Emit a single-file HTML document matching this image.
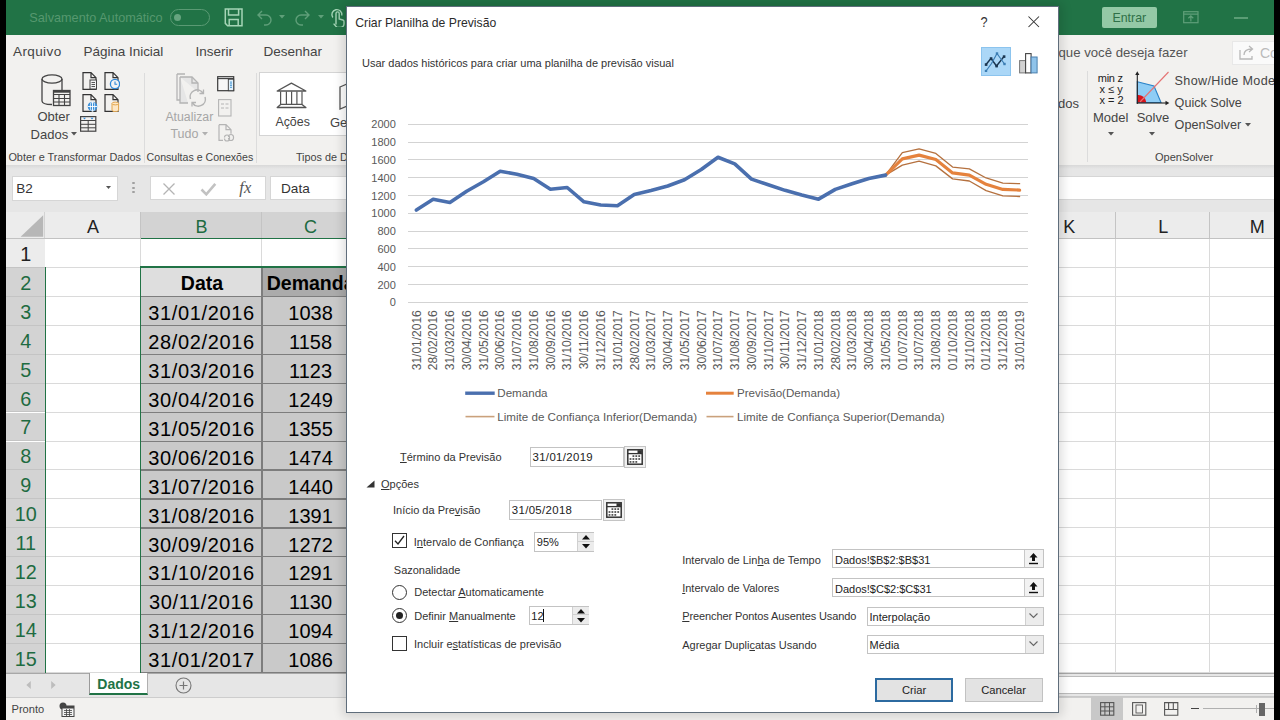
<!DOCTYPE html>
<html lang="pt-BR">
<head>
<meta charset="utf-8">
<title>Criar Planilha de Previsão</title>
<style>
*{box-sizing:border-box;margin:0;padding:0}
html,body{width:1280px;height:720px;overflow:hidden;background:#000;font-family:"Liberation Sans",Arial,sans-serif;position:relative}
.a{position:absolute}
.t{position:absolute;white-space:nowrap;line-height:1}
u{text-decoration:underline;text-underline-offset:1px}
</style>
</head>
<body>
<div class="a" style="left:6.0px;top:0.0px;width:1268.0px;height:35.0px;background:#217346"></div>
<div class="a" style="left:6.0px;top:35.0px;width:1268.0px;height:130.0px;background:#f2f1ef"></div>
<div class="a" style="left:6.0px;top:165.0px;width:1268.0px;height:4.0px;background:linear-gradient(#d8d8d8,#e6e6e6)"></div>
<div class="a" style="left:6.0px;top:169.0px;width:1268.0px;height:43.0px;background:#e6e6e6"></div>
<div class="t " style="left:29.3px;top:12.1px;font-size:12.7px;color:#56986f;">Salvamento Automático</div>
<div class="a" style="left:169.5px;top:8.5px;width:40px;height:17px;border:1.5px solid #5a9a74;border-radius:9px"></div>
<div class="a" style="left:174.0px;top:13.8px;width:7.2px;height:7.2px;background:#66a47f;border-radius:50%"></div>
<svg class="a" style="left:224.0px;top:7.5px;" width="20" height="19" viewBox="0 0 20 19"><path d="M1.3 1H18V17.7H3.6L1.3 15.4Z M4.5 1V7H14.6V1 M5.2 17.7V11.5H14.2V17.7" fill="none" stroke="#a5d5b6" stroke-width="1.5"/></svg>
<svg class="a" style="left:255.0px;top:9.0px;" width="18" height="17" viewBox="0 0 18 17"><path d="M3 6h8a5 5 0 0 1 0 10h-2 M7 2l-4 4 4 4" fill="none" stroke="#5f9f79" stroke-width="1.4"/></svg>
<svg class="a" style="left:278.5px;top:14.5px;" width="6" height="4" viewBox="0 0 6 4"><path d="M0 0h6l-3 3.5z" fill="#5f9f79"/></svg>
<svg class="a" style="left:294.0px;top:9.0px;" width="18" height="17" viewBox="0 0 18 17"><path d="M15 6h-8a5 5 0 0 0 0 10h2 M11 2l4 4-4 4" fill="none" stroke="#5f9f79" stroke-width="1.4"/></svg>
<svg class="a" style="left:317.5px;top:14.5px;" width="6" height="4" viewBox="0 0 6 4"><path d="M0 0h6l-3 3.5z" fill="#5f9f79"/></svg>
<svg class="a" style="left:330.0px;top:7.0px;" width="16" height="20" viewBox="0 0 16 20"><path d="M2.8 10.5A5 5 0 1 1 11.8 8.5" fill="none" stroke="#a5d5b6" stroke-width="1.4"/><path d="M6 17.5V6.5a1.6 1.6 0 0 1 3.2 0V12l3.6 1a1.6 1.6 0 0 1 1.2 1.6V17a3.5 3.5 0 0 1-3.5 3.5H8.3a3 3 0 0 1-2.3-1.1L3.6 16.6" fill="none" stroke="#a5d5b6" stroke-width="1.4"/></svg>
<div class="a" style="left:1101.5px;top:7.2px;width:55.5px;height:20.6px;background:#94c9a6;border-radius:2px"></div>
<div class="t " style="left:1129.3px;transform:translateX(-50%);top:12.3px;font-size:12.4px;color:#2f7048;">Entrar</div>
<svg class="a" style="left:1183.0px;top:11.0px;" width="16" height="13" viewBox="0 0 16 13"><rect x="0.7" y="0.7" width="14.3" height="11" fill="none" stroke="#5f9f79" stroke-width="1.2"/><path d="M0.7 3.2h14.3 M7.85 10.5v-5.5 M5.4 7.2l2.45-2.4 2.45 2.4" fill="none" stroke="#5f9f79" stroke-width="1.2"/></svg>
<div class="a" style="left:1234.0px;top:17.4px;width:13.5px;height:1.2px;background:#5a9d75"></div>
<div class="t " style="left:13.0px;top:45.3px;font-size:13.5px;color:#444;letter-spacing:0.4px">Arquivo</div>
<div class="t " style="left:83.6px;top:45.3px;font-size:13.5px;color:#444;letter-spacing:-0.05px">Página Inicial</div>
<div class="t " style="left:195.4px;top:45.3px;font-size:13.5px;color:#444;letter-spacing:0px">Inserir</div>
<div class="t " style="left:263.5px;top:45.3px;font-size:13.5px;color:#444;letter-spacing:0px">Desenhar</div>
<div class="t " style="left:1058.5px;top:45.7px;font-size:13.2px;color:#555;">que você deseja fazer</div>
<div class="a" style="left:1232px;top:40.5px;width:50px;height:24px;background:#fafafa;border:1px solid #e8e8e8"></div>
<svg class="a" style="left:1239.0px;top:45.0px;" width="16" height="15" viewBox="0 0 16 15"><path d="M1 5v9h12v-3 M5 10c0-4 3-6 8-6 M10 1l3.5 3-3.5 3" fill="none" stroke="#b8b8b8" stroke-width="1.3"/></svg>
<div class="t " style="left:1260.0px;top:46.1px;font-size:14px;color:#bbb;">Co</div>
<svg class="a" style="left:40.0px;top:73.0px;" width="32" height="34" viewBox="0 0 32 34">
<path d="M2 6v22c0 2 4 3.5 10 3.5 M22 6v12" fill="none" stroke="#444" stroke-width="1.3"/>
<ellipse cx="12" cy="6" rx="10" ry="4.2" fill="none" stroke="#444" stroke-width="1.3"/>
<rect x="13.5" y="17.5" width="16.5" height="15" fill="#f2f1ef" stroke="#444" stroke-width="1.3"/>
<path d="M13.5 21.5h16.5 M13.5 25.5h16.5 M13.5 29h16.5 M19 21.5v11 M24.5 21.5v11" stroke="#444" stroke-width="1.1"/>
<rect x="13.5" y="17.5" width="16.5" height="2.2" fill="#444"/></svg>
<div class="t " style="left:37.4px;top:110.4px;font-size:13px;color:#444;">Obter</div>
<div class="t " style="left:30.6px;top:127.6px;font-size:13px;color:#444;">Dados</div>
<svg class="a" style="left:70.5px;top:132.0px;" width="6" height="4" viewBox="0 0 6 4"><path d="M0 0h6l-3 3.5z" fill="#555"/></svg>
<svg class="a" style="left:82.0px;top:72.0px;" width="16" height="18" viewBox="0 0 16 18"><path d="M1 0.7h8l5 5v11.6h-13z M9 0.7v5h5" fill="none" stroke="#333" stroke-width="1.2"/><rect x="8" y="8" width="6.5" height="9" fill="#f3f3f3" stroke="#444" stroke-width="1"/><path d="M9.5 10.5h3.5M9.5 12.5h3.5M9.5 14.5h3.5" stroke="#444" stroke-width="0.9"/></svg>
<svg class="a" style="left:103.5px;top:72.0px;" width="16" height="18" viewBox="0 0 16 18"><path d="M1 0.7h8l5 5v11.6h-13z M9 0.7v5h5" fill="none" stroke="#333" stroke-width="1.2"/><circle cx="11" cy="12" r="4.6" fill="#f3f3f3" stroke="#2f88d8" stroke-width="1.3"/><path d="M11 9.4v2.8h2.2" fill="none" stroke="#2f88d8" stroke-width="1.1"/></svg>
<svg class="a" style="left:82.0px;top:93.5px;" width="16" height="18" viewBox="0 0 16 18"><path d="M1 0.7h8l5 5v11.6h-13z M9 0.7v5h5" fill="none" stroke="#333" stroke-width="1.2"/><circle cx="10.5" cy="12.5" r="4.8" fill="#3a8fd9"/><path d="M5.7 12.5h9.6 M10.5 7.7v9.6" stroke="#fff" stroke-width="0.9"/><ellipse cx="10.5" cy="12.5" rx="2.2" ry="4.8" fill="none" stroke="#fff" stroke-width="0.8"/></svg>
<svg class="a" style="left:103.5px;top:93.5px;" width="16" height="18" viewBox="0 0 16 18"><path d="M1 0.7h8l5 5v11.6h-13z M9 0.7v5h5" fill="none" stroke="#333" stroke-width="1.2"/><path d="M8 9.5v6.5c0 1 1.5 1.6 3.3 1.6s3.3-0.6 3.3-1.6v-6.5" fill="#fde7c6" stroke="#e3a64d" stroke-width="1"/><ellipse cx="11.3" cy="9.5" rx="3.3" ry="1.4" fill="#fde7c6" stroke="#e3a64d" stroke-width="1"/></svg>
<svg class="a" style="left:80.0px;top:116.0px;" width="17" height="16" viewBox="0 0 17 16"><rect x="0.6" y="0.6" width="15.2" height="14.6" fill="none" stroke="#444" stroke-width="1.2"/><path d="M0.6 4.5h15.2 M0.6 8.3h15.2 M0.6 11.8h15.2 M8.2 4.5v10.7" stroke="#444" stroke-width="1"/><path d="M3 1.8h3l-1.5 1.7z M10.5 1.8h3l-1.5 1.7z" fill="#2f88d8"/></svg>
<div class="t " style="left:8.4px;top:152.1px;font-size:10.9px;color:#444;">Obter e Transformar Dados</div>
<div class="a" style="left:144.4px;top:73.0px;width:1.0px;height:90.0px;background:#dcdcdc"></div>
<svg class="a" style="left:176.0px;top:73.0px;" width="32" height="34" viewBox="0 0 32 34">
<path d="M1 1h8 M1 1v26h3" fill="none" stroke="#b4b4b4" stroke-width="1.3"/>
<path d="M4 4h12l6 6v9 M4 4v26h8" fill="#e6e6e6" stroke="#b4b4b4" stroke-width="1.3"/>
<path d="M16 4v6h6" fill="none" stroke="#b4b4b4" stroke-width="1.3"/>
<path d="M14.5 26a7 7 0 0 1 12.5-6 M29 24a7 7 0 0 1-12.5 6" fill="none" stroke="#b4b4b4" stroke-width="1.5"/>
<path d="M27.5 16.5v4h-4 M16 33.5v-4h4" fill="none" stroke="#b4b4b4" stroke-width="1.3"/></svg>
<div class="t " style="left:165.4px;top:111.4px;font-size:12.3px;color:#a6a6a6;">Atualizar</div>
<div class="t " style="left:170.4px;top:127.7px;font-size:12.5px;color:#a6a6a6;">Tudo</div>
<svg class="a" style="left:202.3px;top:131.5px;" width="6" height="4" viewBox="0 0 6 4"><path d="M0 0h6l-3 3.5z" fill="#b0b0b0"/></svg>
<svg class="a" style="left:216.5px;top:75.5px;" width="18" height="16" viewBox="0 0 18 16"><rect x="0.7" y="0.7" width="16" height="14" fill="#f7f7f7" stroke="#3a3a3a" stroke-width="1.2"/><path d="M0.7 2.6h16" stroke="#3a3a3a" stroke-width="1.1"/><rect x="11.3" y="3.2" width="5.4" height="11.5" fill="#e3f1fb" stroke="#3a3a3a" stroke-width="0.9"/><path d="M14 5.5v6.5" stroke="#3a8fd0" stroke-width="1.5" stroke-dasharray="1.2 0.6"/></svg>
<svg class="a" style="left:217.5px;top:99.0px;" width="15" height="18" viewBox="0 0 15 18"><rect x="0.6" y="0.6" width="12.4" height="16.4" fill="none" stroke="#b4b4b4" stroke-width="1.1"/><path d="M3 5h3 M7.5 5h3 M3 9h3 M7.5 9h3" stroke="#b4b4b4" stroke-width="1"/></svg>
<svg class="a" style="left:217.5px;top:123.5px;" width="17" height="18" viewBox="0 0 17 18"><path d="M1 0.7h7l5 5v4 M1 0.7v15.6h4 M8 0.7v5h5" fill="none" stroke="#b4b4b4" stroke-width="1.2"/><path d="M6.5 13.5a2.5 2.5 0 0 1 5 0v1a2.5 2.5 0 0 1-5 0 M10.5 13a2.5 2.5 0 0 1 5 0v1a2.5 2.5 0 0 1-5 0" fill="none" stroke="#b4b4b4" stroke-width="1.2"/></svg>
<div class="t " style="left:146.6px;top:152.2px;font-size:10.6px;color:#444;">Consultas e Conexões</div>
<div class="a" style="left:255.7px;top:73.0px;width:1.0px;height:90.0px;background:#dcdcdc"></div>
<div class="a" style="left:259.4px;top:72.3px;width:100px;height:63.5px;background:#fff;border:1px solid #d4d4d4"></div>
<svg class="a" style="left:276.0px;top:82.0px;" width="31" height="27" viewBox="0 0 31 27"><path d="M1.2 9L15.4 1.1 29.9 9z" fill="none" stroke="#555" stroke-width="1.3" stroke-linejoin="round"/><path d="M4.6 9.6v12.8 M10.4 9.6v12.8 M15.6 9.6v12.8 M20.9 9.6v12.8 M26 9.6v12.8" stroke="#555" stroke-width="1.2"/><path d="M1.2 25.5L4.6 22.4H26L29.9 25.5z" fill="none" stroke="#555" stroke-width="1.3" stroke-linejoin="round"/></svg>
<div class="t " style="left:275.4px;top:115.9px;font-size:12.4px;color:#444;">Ações</div>
<svg class="a" style="left:339.0px;top:83.0px;" width="10" height="28" viewBox="0 0 10 28"><path d="M1 4l7-3v22l-7 3z" fill="none" stroke="#555" stroke-width="1.3"/></svg>
<div class="t " style="left:330.0px;top:115.6px;font-size:13px;color:#444;">Geo</div>
<div class="t " style="left:295.9px;top:152.1px;font-size:10.8px;color:#444;">Tipos de Dados</div>
<div class="t " style="left:1058.0px;top:96.6px;font-size:13px;color:#444;">dos</div>
<div class="a" style="left:1087.0px;top:71.0px;width:1.0px;height:91.0px;background:#dcdcdc"></div>
<div class="t " style="left:1097.8px;top:72.6px;font-size:11px;color:#222;letter-spacing:-0.3px">min z</div>
<div class="t " style="left:1099.5px;top:83.8px;font-size:11px;color:#222;">x ≤ y</div>
<div class="t " style="left:1099.5px;top:94.9px;font-size:11px;color:#222;">x = 2</div>
<div class="t " style="left:1092.9px;top:110.6px;font-size:13px;color:#444;">Model</div>
<svg class="a" style="left:1108.0px;top:131.5px;" width="6" height="4" viewBox="0 0 6 4"><path d="M0 0h6l-3 3.5z" fill="#555"/></svg>
<svg class="a" style="left:1135.0px;top:70.0px;" width="36" height="36" viewBox="0 0 36 36">
<path d="M2.3 11.7L19 16 26 32.5H2.3z" fill="#8fcdf5" stroke="#2a83c8" stroke-width="1.1"/>
<path d="M2.3 25a8 8 0 0 1 9 7.5h-9z" fill="#d7141c"/>
<path d="M5 32l28.5-30" stroke="#e57373" stroke-width="1.1"/>
<path d="M2.3 34V3" stroke="#222" stroke-width="1.1"/><path d="M0.2 5L2.3 1.2 4.4 5z" fill="#222"/>
<path d="M1.8 33h30" stroke="#222" stroke-width="1.1"/><path d="M30.5 30.8l3.8 2.2-3.8 2.2z" fill="#222"/></svg>
<div class="t " style="left:1136.7px;top:110.6px;font-size:13px;color:#444;">Solve</div>
<svg class="a" style="left:1148.8px;top:131.5px;" width="6" height="4" viewBox="0 0 6 4"><path d="M0 0h6l-3 3.5z" fill="#555"/></svg>
<div class="t " style="left:1174.6px;top:75.1px;font-size:12.6px;color:#444;letter-spacing:0.35px">Show/Hide Model</div>
<div class="t " style="left:1174.6px;top:96.8px;font-size:12.6px;color:#444;">Quick Solve</div>
<div class="t " style="left:1174.6px;top:118.6px;font-size:12.6px;color:#444;">OpenSolver</div>
<svg class="a" style="left:1244.5px;top:123.0px;" width="6" height="4" viewBox="0 0 6 4"><path d="M0 0h6l-3 3.5z" fill="#555"/></svg>
<div class="t " style="left:1155.0px;top:151.8px;font-size:11px;color:#444;">OpenSolver</div>
<div class="a" style="left:11.5px;top:176.4px;width:106.7px;height:24.2px;background:#fff;border:1px solid #d6d6d6"></div>
<div class="t " style="left:16.3px;top:181.9px;font-size:13.5px;color:#333;">B2</div>
<svg class="a" style="left:105.5px;top:186.3px;" width="5" height="3" viewBox="0 0 5 3"><path d="M0 0h5l-2.5 3z" fill="#555"/></svg>
<div class="a" style="left:132.4px;top:182.2px;width:2.2px;height:2.2px;background:#a0a0a0;border-radius:50%"></div>
<div class="a" style="left:132.4px;top:186.6px;width:2.2px;height:2.2px;background:#a0a0a0;border-radius:50%"></div>
<div class="a" style="left:132.4px;top:190.8px;width:2.2px;height:2.2px;background:#a0a0a0;border-radius:50%"></div>
<div class="a" style="left:150.4px;top:176.4px;width:115.5px;height:24px;background:#fff;border:1px solid #d6d6d6"></div>
<svg class="a" style="left:162.0px;top:182.0px;" width="14" height="14" viewBox="0 0 14 14"><path d="M1.5 1.5l11 11 M12.5 1.5l-11 11" stroke="#b4b4b4" stroke-width="1.3"/></svg>
<svg class="a" style="left:200.0px;top:182.0px;" width="17" height="14" viewBox="0 0 17 14"><path d="M1.5 7.5l4.8 4.8 9-10.5" fill="none" stroke="#c2c2c2" stroke-width="2.6"/></svg>
<div class="t " style="left:239.3px;top:180.2px;font-size:16.5px;color:#555;font-family:'Liberation Serif',serif;"><i>fx</i></div>
<div class="a" style="left:269.8px;top:176.4px;width:1010px;height:24px;background:#fff;border:1px solid #d6d6d6"></div>
<div class="t " style="left:281.0px;top:182.0px;font-size:13.6px;color:#333;">Data</div>
<div class="a" style="left:6.0px;top:239.0px;width:1268.0px;height:434.3px;background:#fff"></div>
<div class="a" style="left:6.0px;top:211.6px;width:1268.0px;height:27.4px;background:#ececec;border-bottom:1px solid #c9c9c9"></div>
<svg class="a" style="left:6.0px;top:211.6px;" width="39.3" height="27.400000000000006" viewBox="0 0 39.3 27.400000000000006"><path d="M37.2 3.2V24.7H14.6z" fill="#b7b7b7"/><path d="M38.8 0V27.400000000000006" stroke="#c9c9c9"/></svg>
<div class="a" style="left:45.3px;top:211.6px;width:95.4px;height:27.4px;background:#ececec;border-right:1px solid #c4c4c4"></div>
<div class="t " style="left:93.0px;transform:translateX(-50%);top:217.5px;font-size:18px;color:#222;">A</div>
<div class="a" style="left:140.7px;top:211.6px;width:121.6px;height:27.4px;background:#d3d3d3;border-right:1px solid #c4c4c4"></div>
<div class="t " style="left:201.5px;transform:translateX(-50%);top:217.5px;font-size:18px;color:#1e6b41;">B</div>
<div class="a" style="left:262.3px;top:211.6px;width:96.2px;height:27.4px;background:#d3d3d3;border-right:1px solid #c4c4c4"></div>
<div class="t " style="left:310.4px;transform:translateX(-50%);top:217.5px;font-size:18px;color:#1e6b41;">C</div>
<div class="a" style="left:1022.0px;top:211.6px;width:94.4px;height:27.4px;background:#ececec;border-right:1px solid #c4c4c4"></div>
<div class="t " style="left:1069.2px;transform:translateX(-50%);top:217.5px;font-size:18px;color:#222;">K</div>
<div class="a" style="left:1116.4px;top:211.6px;width:93.9px;height:27.4px;background:#ececec;border-right:1px solid #c4c4c4"></div>
<div class="t " style="left:1163.3px;transform:translateX(-50%);top:217.5px;font-size:18px;color:#222;">L</div>
<div class="a" style="left:1210.3px;top:211.6px;width:93.7px;height:27.4px;background:#ececec;border-right:1px solid #c4c4c4"></div>
<div class="t " style="left:1257.2px;transform:translateX(-50%);top:217.5px;font-size:18px;color:#222;">M</div>
<div class="a" style="left:6.0px;top:238.0px;width:1268.0px;height:1.0px;background:#c2c2c2"></div>
<div class="a" style="left:140.7px;top:237.5px;width:217.8px;height:1.5px;background:#217346"></div>
<div class="a" style="left:6.0px;top:239.0px;width:39.3px;height:28.9px;background:#ececec;border-bottom:1px solid #c4c4c4"></div>
<div class="t " style="left:25.8px;transform:translateX(-50%);top:244.9px;font-size:19.8px;color:#222;">1</div>
<div class="a" style="left:45.3px;top:266.9px;width:1228.7px;height:1.0px;background:#dadada"></div>
<div class="a" style="left:6.0px;top:267.9px;width:39.3px;height:28.9px;background:#d3d3d3;border-bottom:1px solid #c4c4c4"></div>
<div class="t " style="left:25.8px;transform:translateX(-50%);top:273.8px;font-size:19.8px;color:#1e6b41;">2</div>
<div class="a" style="left:45.3px;top:295.9px;width:1228.7px;height:1.0px;background:#dadada"></div>
<div class="a" style="left:6.0px;top:296.9px;width:39.3px;height:28.9px;background:#d3d3d3;border-bottom:1px solid #c4c4c4"></div>
<div class="t " style="left:25.8px;transform:translateX(-50%);top:302.7px;font-size:19.8px;color:#1e6b41;">3</div>
<div class="a" style="left:45.3px;top:324.8px;width:1228.7px;height:1.0px;background:#dadada"></div>
<div class="a" style="left:6.0px;top:325.8px;width:39.3px;height:28.9px;background:#d3d3d3;border-bottom:1px solid #c4c4c4"></div>
<div class="t " style="left:25.8px;transform:translateX(-50%);top:331.7px;font-size:19.8px;color:#1e6b41;">4</div>
<div class="a" style="left:45.3px;top:353.7px;width:1228.7px;height:1.0px;background:#dadada"></div>
<div class="a" style="left:6.0px;top:354.7px;width:39.3px;height:28.9px;background:#d3d3d3;border-bottom:1px solid #c4c4c4"></div>
<div class="t " style="left:25.8px;transform:translateX(-50%);top:360.6px;font-size:19.8px;color:#1e6b41;">5</div>
<div class="a" style="left:45.3px;top:382.7px;width:1228.7px;height:1.0px;background:#dadada"></div>
<div class="a" style="left:6.0px;top:383.6px;width:39.3px;height:28.9px;background:#d3d3d3;border-bottom:1px solid #c4c4c4"></div>
<div class="t " style="left:25.8px;transform:translateX(-50%);top:389.5px;font-size:19.8px;color:#1e6b41;">6</div>
<div class="a" style="left:45.3px;top:411.6px;width:1228.7px;height:1.0px;background:#dadada"></div>
<div class="a" style="left:6.0px;top:412.6px;width:39.3px;height:28.9px;background:#d3d3d3;border-bottom:1px solid #c4c4c4"></div>
<div class="t " style="left:25.8px;transform:translateX(-50%);top:418.4px;font-size:19.8px;color:#1e6b41;">7</div>
<div class="a" style="left:45.3px;top:440.5px;width:1228.7px;height:1.0px;background:#dadada"></div>
<div class="a" style="left:6.0px;top:441.5px;width:39.3px;height:28.9px;background:#d3d3d3;border-bottom:1px solid #c4c4c4"></div>
<div class="t " style="left:25.8px;transform:translateX(-50%);top:447.4px;font-size:19.8px;color:#1e6b41;">8</div>
<div class="a" style="left:45.3px;top:469.4px;width:1228.7px;height:1.0px;background:#dadada"></div>
<div class="a" style="left:6.0px;top:470.4px;width:39.3px;height:28.9px;background:#d3d3d3;border-bottom:1px solid #c4c4c4"></div>
<div class="t " style="left:25.8px;transform:translateX(-50%);top:476.3px;font-size:19.8px;color:#1e6b41;">9</div>
<div class="a" style="left:45.3px;top:498.4px;width:1228.7px;height:1.0px;background:#dadada"></div>
<div class="a" style="left:6.0px;top:499.4px;width:39.3px;height:28.9px;background:#d3d3d3;border-bottom:1px solid #c4c4c4"></div>
<div class="t " style="left:25.8px;transform:translateX(-50%);top:505.2px;font-size:19.8px;color:#1e6b41;">10</div>
<div class="a" style="left:45.3px;top:527.3px;width:1228.7px;height:1.0px;background:#dadada"></div>
<div class="a" style="left:6.0px;top:528.3px;width:39.3px;height:28.9px;background:#d3d3d3;border-bottom:1px solid #c4c4c4"></div>
<div class="t " style="left:25.8px;transform:translateX(-50%);top:534.2px;font-size:19.8px;color:#1e6b41;">11</div>
<div class="a" style="left:45.3px;top:556.2px;width:1228.7px;height:1.0px;background:#dadada"></div>
<div class="a" style="left:6.0px;top:557.2px;width:39.3px;height:28.9px;background:#d3d3d3;border-bottom:1px solid #c4c4c4"></div>
<div class="t " style="left:25.8px;transform:translateX(-50%);top:563.1px;font-size:19.8px;color:#1e6b41;">12</div>
<div class="a" style="left:45.3px;top:585.2px;width:1228.7px;height:1.0px;background:#dadada"></div>
<div class="a" style="left:6.0px;top:586.2px;width:39.3px;height:28.9px;background:#d3d3d3;border-bottom:1px solid #c4c4c4"></div>
<div class="t " style="left:25.8px;transform:translateX(-50%);top:592.0px;font-size:19.8px;color:#1e6b41;">13</div>
<div class="a" style="left:45.3px;top:614.1px;width:1228.7px;height:1.0px;background:#dadada"></div>
<div class="a" style="left:6.0px;top:615.1px;width:39.3px;height:28.9px;background:#d3d3d3;border-bottom:1px solid #c4c4c4"></div>
<div class="t " style="left:25.8px;transform:translateX(-50%);top:621.0px;font-size:19.8px;color:#1e6b41;">14</div>
<div class="a" style="left:45.3px;top:643.0px;width:1228.7px;height:1.0px;background:#dadada"></div>
<div class="a" style="left:6.0px;top:644.0px;width:39.3px;height:28.9px;background:#d3d3d3;border-bottom:1px solid #c4c4c4"></div>
<div class="t " style="left:25.8px;transform:translateX(-50%);top:649.9px;font-size:19.8px;color:#1e6b41;">15</div>
<div class="a" style="left:45.3px;top:671.9px;width:1228.7px;height:1.0px;background:#dadada"></div>
<div class="a" style="left:139.7px;top:239.0px;width:1.0px;height:434.3px;background:#dadada"></div>
<div class="a" style="left:261.3px;top:239.0px;width:1.0px;height:434.3px;background:#dadada"></div>
<div class="a" style="left:357.5px;top:239.0px;width:1.0px;height:434.3px;background:#dadada"></div>
<div class="a" style="left:1115.4px;top:239.0px;width:1.0px;height:434.3px;background:#dadada"></div>
<div class="a" style="left:1209.3px;top:239.0px;width:1.0px;height:434.3px;background:#dadada"></div>
<div class="a" style="left:1303.0px;top:239.0px;width:1.0px;height:434.3px;background:#dadada"></div>
<div class="a" style="left:44.5px;top:266.9px;width:1.4px;height:406.4px;background:#217346"></div>
<div class="a" style="left:140.7px;top:267.9px;width:121.6px;height:28.9px;background:#dedede"></div>
<div class="a" style="left:262.3px;top:267.9px;width:96.2px;height:28.9px;background:#ababab"></div>
<div class="a" style="left:140.7px;top:296.9px;width:217.8px;height:376.4px;background:#c9c9c9"></div>
<div class="a" style="left:140.7px;top:295.9px;width:217.8px;height:1.3px;background:#7d7d7d"></div>
<div class="a" style="left:140.7px;top:324.8px;width:217.8px;height:1.3px;background:#7d7d7d"></div>
<div class="a" style="left:140.7px;top:353.7px;width:217.8px;height:1.3px;background:#7d7d7d"></div>
<div class="a" style="left:140.7px;top:382.6px;width:217.8px;height:1.3px;background:#7d7d7d"></div>
<div class="a" style="left:140.7px;top:411.6px;width:217.8px;height:1.3px;background:#7d7d7d"></div>
<div class="a" style="left:140.7px;top:440.5px;width:217.8px;height:1.3px;background:#7d7d7d"></div>
<div class="a" style="left:140.7px;top:469.4px;width:217.8px;height:1.3px;background:#7d7d7d"></div>
<div class="a" style="left:140.7px;top:498.4px;width:217.8px;height:1.3px;background:#7d7d7d"></div>
<div class="a" style="left:140.7px;top:527.3px;width:217.8px;height:1.3px;background:#7d7d7d"></div>
<div class="a" style="left:140.7px;top:556.2px;width:217.8px;height:1.3px;background:#7d7d7d"></div>
<div class="a" style="left:140.7px;top:585.2px;width:217.8px;height:1.3px;background:#7d7d7d"></div>
<div class="a" style="left:140.7px;top:614.1px;width:217.8px;height:1.3px;background:#7d7d7d"></div>
<div class="a" style="left:140.7px;top:643.0px;width:217.8px;height:1.3px;background:#7d7d7d"></div>
<div class="a" style="left:140.7px;top:672.0px;width:217.8px;height:1.3px;background:#7d7d7d"></div>
<div class="a" style="left:261.3px;top:267.9px;width:1.5px;height:405.4px;background:#7d7d7d"></div>
<div class="a" style="left:139.7px;top:266.4px;width:218.8px;height:1.7px;background:#217346"></div>
<div class="a" style="left:139.9px;top:266.4px;width:1.6px;height:406.9px;background:#217346"></div>
<div class="t " style="left:202.0px;transform:translateX(-50%);top:274.0px;font-size:19.5px;color:#000;font-weight:bold;">Data</div>
<div class="t " style="left:310.6px;transform:translateX(-50%);top:274.0px;font-size:19.5px;color:#000;font-weight:bold;">Demanda</div>
<div class="t " style="left:201.6px;transform:translateX(-50%);top:303.0px;font-size:20px;color:#000;letter-spacing:0.65px">31/01/2016</div>
<div class="t " style="left:310.6px;transform:translateX(-50%);top:303.0px;font-size:20px;color:#000;">1038</div>
<div class="t " style="left:201.6px;transform:translateX(-50%);top:332.0px;font-size:20px;color:#000;letter-spacing:0.65px">28/02/2016</div>
<div class="t " style="left:310.6px;transform:translateX(-50%);top:332.0px;font-size:20px;color:#000;">1158</div>
<div class="t " style="left:201.6px;transform:translateX(-50%);top:360.9px;font-size:20px;color:#000;letter-spacing:0.65px">31/03/2016</div>
<div class="t " style="left:310.6px;transform:translateX(-50%);top:360.9px;font-size:20px;color:#000;">1123</div>
<div class="t " style="left:201.6px;transform:translateX(-50%);top:389.8px;font-size:20px;color:#000;letter-spacing:0.65px">30/04/2016</div>
<div class="t " style="left:310.6px;transform:translateX(-50%);top:389.8px;font-size:20px;color:#000;">1249</div>
<div class="t " style="left:201.6px;transform:translateX(-50%);top:418.7px;font-size:20px;color:#000;letter-spacing:0.65px">31/05/2016</div>
<div class="t " style="left:310.6px;transform:translateX(-50%);top:418.7px;font-size:20px;color:#000;">1355</div>
<div class="t " style="left:201.6px;transform:translateX(-50%);top:447.7px;font-size:20px;color:#000;letter-spacing:0.65px">30/06/2016</div>
<div class="t " style="left:310.6px;transform:translateX(-50%);top:447.7px;font-size:20px;color:#000;">1474</div>
<div class="t " style="left:201.6px;transform:translateX(-50%);top:476.6px;font-size:20px;color:#000;letter-spacing:0.65px">31/07/2016</div>
<div class="t " style="left:310.6px;transform:translateX(-50%);top:476.6px;font-size:20px;color:#000;">1440</div>
<div class="t " style="left:201.6px;transform:translateX(-50%);top:505.5px;font-size:20px;color:#000;letter-spacing:0.65px">31/08/2016</div>
<div class="t " style="left:310.6px;transform:translateX(-50%);top:505.5px;font-size:20px;color:#000;">1391</div>
<div class="t " style="left:201.6px;transform:translateX(-50%);top:534.5px;font-size:20px;color:#000;letter-spacing:0.65px">30/09/2016</div>
<div class="t " style="left:310.6px;transform:translateX(-50%);top:534.5px;font-size:20px;color:#000;">1272</div>
<div class="t " style="left:201.6px;transform:translateX(-50%);top:563.4px;font-size:20px;color:#000;letter-spacing:0.65px">31/10/2016</div>
<div class="t " style="left:310.6px;transform:translateX(-50%);top:563.4px;font-size:20px;color:#000;">1291</div>
<div class="t " style="left:201.6px;transform:translateX(-50%);top:592.3px;font-size:20px;color:#000;letter-spacing:0.65px">30/11/2016</div>
<div class="t " style="left:310.6px;transform:translateX(-50%);top:592.3px;font-size:20px;color:#000;">1130</div>
<div class="t " style="left:201.6px;transform:translateX(-50%);top:621.3px;font-size:20px;color:#000;letter-spacing:0.65px">31/12/2016</div>
<div class="t " style="left:310.6px;transform:translateX(-50%);top:621.3px;font-size:20px;color:#000;">1094</div>
<div class="t " style="left:201.6px;transform:translateX(-50%);top:650.2px;font-size:20px;color:#000;letter-spacing:0.65px">31/01/2017</div>
<div class="t " style="left:310.6px;transform:translateX(-50%);top:650.2px;font-size:20px;color:#000;">1086</div>
<div class="a" style="left:6.0px;top:672.8px;width:1268.0px;height:25.0px;background:#e6e6e6;border-top:1px solid #a8a8a8;border-bottom:1px solid #cdcdcd"></div>
<svg class="a" style="left:26.3px;top:680.8px;" width="5" height="8" viewBox="0 0 5 8"><path d="M4.8 0L0.3 4 4.8 8z" fill="#bdbdbd"/></svg>
<svg class="a" style="left:50.8px;top:680.8px;" width="5" height="8" viewBox="0 0 5 8"><path d="M0.2 0L4.7 4 0.2 8z" fill="#bdbdbd"/></svg>
<div class="a" style="left:89.2px;top:673px;width:58.5px;height:22px;background:#fff;border-bottom:2px solid #217346;border-left:1px solid #9a9a9a;border-right:1px solid #b0b0b0"></div>
<div class="t " style="left:118.7px;transform:translateX(-50%);top:677.4px;font-size:14px;color:#217346;font-weight:bold;">Dados</div>
<svg class="a" style="left:175.0px;top:676.5px;" width="17" height="17" viewBox="0 0 17 17"><circle cx="8.5" cy="8.5" r="7.5" fill="none" stroke="#777" stroke-width="1.1"/><path d="M8.5 4.5v8 M4.5 8.5h8" stroke="#777" stroke-width="1.2"/></svg>
<div class="a" style="left:1058.0px;top:675.8px;width:216.0px;height:17.8px;background:#fff;border-top:1px solid #bcbcbc;border-bottom:1px solid #bcbcbc"></div>
<div class="a" style="left:1058.0px;top:693.6px;width:216.0px;height:3.8px;background:#e6e6e6;border-bottom:1px solid #c8c8c8"></div>
<div class="a" style="left:6.0px;top:697.8px;width:1268.0px;height:22.2px;background:#f2f1ef"></div>
<div class="t " style="left:11.5px;top:704.0px;font-size:11.1px;color:#444;">Pronto</div>
<svg class="a" style="left:59.0px;top:701.5px;" width="16" height="15" viewBox="0 0 16 15"><circle cx="4" cy="4" r="3.5" fill="#444"/><rect x="3" y="4" width="12" height="10.5" fill="#f3f3f3" stroke="#444" stroke-width="1"/><rect x="3" y="4" width="12" height="2.5" fill="#444"/><path d="M5 8.5h8 M5 10.5h8 M5 12.5h8 M7.5 7v7 M10.5 7v7" stroke="#444" stroke-width="0.8"/></svg>
<div class="a" style="left:1091.0px;top:697.4px;width:31.8px;height:22.6px;background:#c8c8c8"></div>
<svg class="a" style="left:1100.0px;top:702.0px;" width="15" height="14" viewBox="0 0 15 14"><rect x="0.6" y="0.6" width="13.2" height="12.6" fill="none" stroke="#555" stroke-width="1.1"/><path d="M4.9 0.6v12.6 M9.5 0.6v12.6 M0.6 4.8h13.2 M0.6 9h13.2" stroke="#555" stroke-width="1"/></svg>
<svg class="a" style="left:1131.5px;top:702.0px;" width="15" height="14" viewBox="0 0 15 14"><rect x="0.6" y="0.6" width="13.2" height="12.6" fill="none" stroke="#555" stroke-width="1.1"/><rect x="4" y="3" width="6.5" height="8" fill="none" stroke="#555" stroke-width="0.9"/></svg>
<svg class="a" style="left:1163.5px;top:702.0px;" width="15" height="14" viewBox="0 0 15 14"><path d="M0.6 0.6h13.2v12.6h-13.2z M0.6 7.5h13.2 M4.6 0.6v6.9 M9.3 0.6v6.9" fill="none" stroke="#555" stroke-width="1.1"/></svg>
<div class="a" style="left:1191.0px;top:707.6px;width:7.5px;height:1.6px;background:#444"></div>
<div class="a" style="left:1203.0px;top:708.0px;width:72.0px;height:1.0px;background:#b0b0b0"></div>
<div class="a" style="left:1255.5px;top:704.5px;width:1.0px;height:8.0px;background:#b0b0b0"></div>
<div class="a" style="left:1259.0px;top:703.0px;width:6.0px;height:13.0px;background:#666"></div>
<div class="a" style="left:345.6px;top:5.8px;width:713.4px;height:707.2px;background:#fff;border:1px solid #5f6d7b;box-shadow:0 0 10px 3px rgba(0,0,0,0.14)"></div>
<div class="t " style="left:355.3px;top:17.3px;font-size:12.2px;color:#2b2b2b;">Criar Planilha de Previsão</div>
<div class="t " style="left:984.1px;transform:translateX(-50%);top:14.3px;font-size:15px;color:#333;transform:translateX(-50%) scaleX(0.85)">?</div>
<svg class="a" style="left:1028.0px;top:16.0px;" width="12" height="12" viewBox="0 0 12 12"><path d="M0.5 0.5L11 11 M11 0.5L0.5 11" stroke="#333" stroke-width="1.05"/></svg>
<div class="t " style="left:362.0px;top:57.6px;font-size:11px;color:#333;">Usar dados históricos para criar uma planilha de previsão visual</div>
<div class="a" style="left:981.3px;top:47.3px;width:29.7px;height:28.5px;background:#abd7f7;border:1px solid #8cc4ee"></div>
<svg class="a" style="left:984.0px;top:51.0px;" width="25" height="21" viewBox="0 0 25 21">
<path d="M2 13.5L7 7.5 12.5 15 20 5.5" fill="none" stroke="#1b3650" stroke-width="1.4"/>
<path d="M2 20L7.5 12.5 13 2.5 20.5 13" fill="none" stroke="#3b7db3" stroke-width="1.2"/>
<rect x="0.8" y="12.3" width="2.6" height="2.6" fill="#1b3650"/><rect x="5.8" y="6.3" width="2.6" height="2.6" fill="#1b3650"/>
<rect x="11.3" y="13.8" width="2.6" height="2.6" fill="#1b3650"/><rect x="18.8" y="4.3" width="2.6" height="2.6" fill="#1b3650"/>
<rect x="0.8" y="18.8" width="2.4" height="2.4" fill="#3b7db3"/><rect x="11.8" y="1.3" width="2.4" height="2.4" fill="#3b7db3"/><rect x="19.3" y="11.8" width="2.4" height="2.4" fill="#3b7db3"/></svg>
<svg class="a" style="left:1018.5px;top:51.5px;" width="20" height="22" viewBox="0 0 20 22">
<rect x="0.6" y="8.6" width="6" height="12.3" fill="#d2d2d2" stroke="#777" stroke-width="1"/>
<rect x="6.6" y="1.6" width="5.5" height="19.3" fill="#fff" stroke="#444" stroke-width="1.1"/>
<rect x="12.1" y="5" width="6" height="15.9" fill="#8fc3ea" stroke="#4a7fae" stroke-width="1"/></svg>
<svg class="a" style="left:0.0px;top:0.0px;" width="1280" height="720" viewBox="0 0 1280 720"><g font-family="Liberation Sans, Arial, sans-serif" fill="#595959"><path d="M408.0 302.5H1028.0" stroke="#d3d3d3" stroke-width="1"/><text x="395.8" y="306.3" font-size="11" text-anchor="end">0</text><path d="M408.0 284.5H1028.0" stroke="#d3d3d3" stroke-width="1"/><text x="395.8" y="288.5" font-size="11" text-anchor="end">200</text><path d="M408.0 266.5H1028.0" stroke="#d3d3d3" stroke-width="1"/><text x="395.8" y="270.7" font-size="11" text-anchor="end">400</text><path d="M408.0 248.5H1028.0" stroke="#d3d3d3" stroke-width="1"/><text x="395.8" y="252.9" font-size="11" text-anchor="end">600</text><path d="M408.0 231.5H1028.0" stroke="#d3d3d3" stroke-width="1"/><text x="395.8" y="235.1" font-size="11" text-anchor="end">800</text><path d="M408.0 213.5H1028.0" stroke="#d3d3d3" stroke-width="1"/><text x="395.8" y="217.3" font-size="11" text-anchor="end">1000</text><path d="M408.0 195.5H1028.0" stroke="#d3d3d3" stroke-width="1"/><text x="395.8" y="199.5" font-size="11" text-anchor="end">1200</text><path d="M408.0 177.5H1028.0" stroke="#d3d3d3" stroke-width="1"/><text x="395.8" y="181.7" font-size="11" text-anchor="end">1400</text><path d="M408.0 159.5H1028.0" stroke="#d3d3d3" stroke-width="1"/><text x="395.8" y="163.9" font-size="11" text-anchor="end">1600</text><path d="M408.0 142.5H1028.0" stroke="#d3d3d3" stroke-width="1"/><text x="395.8" y="146.1" font-size="11" text-anchor="end">1800</text><path d="M408.0 124.5H1028.0" stroke="#d3d3d3" stroke-width="1"/><text x="395.8" y="128.3" font-size="11" text-anchor="end">2000</text><text transform="translate(420.68,310.2) rotate(-90)" font-size="12" text-anchor="end">31/01/2016</text><text transform="translate(437.44,310.2) rotate(-90)" font-size="12" text-anchor="end">28/02/2016</text><text transform="translate(454.19,310.2) rotate(-90)" font-size="12" text-anchor="end">31/03/2016</text><text transform="translate(470.95,310.2) rotate(-90)" font-size="12" text-anchor="end">30/04/2016</text><text transform="translate(487.71,310.2) rotate(-90)" font-size="12" text-anchor="end">31/05/2016</text><text transform="translate(504.46,310.2) rotate(-90)" font-size="12" text-anchor="end">30/06/2016</text><text transform="translate(521.22,310.2) rotate(-90)" font-size="12" text-anchor="end">31/07/2016</text><text transform="translate(537.98,310.2) rotate(-90)" font-size="12" text-anchor="end">31/08/2016</text><text transform="translate(554.73,310.2) rotate(-90)" font-size="12" text-anchor="end">30/09/2016</text><text transform="translate(571.49,310.2) rotate(-90)" font-size="12" text-anchor="end">31/10/2016</text><text transform="translate(588.25,310.2) rotate(-90)" font-size="12" text-anchor="end">30/11/2016</text><text transform="translate(605.00,310.2) rotate(-90)" font-size="12" text-anchor="end">31/12/2016</text><text transform="translate(621.76,310.2) rotate(-90)" font-size="12" text-anchor="end">31/01/2017</text><text transform="translate(638.52,310.2) rotate(-90)" font-size="12" text-anchor="end">28/02/2017</text><text transform="translate(655.27,310.2) rotate(-90)" font-size="12" text-anchor="end">31/03/2017</text><text transform="translate(672.03,310.2) rotate(-90)" font-size="12" text-anchor="end">30/04/2017</text><text transform="translate(688.79,310.2) rotate(-90)" font-size="12" text-anchor="end">31/05/2017</text><text transform="translate(705.54,310.2) rotate(-90)" font-size="12" text-anchor="end">30/06/2017</text><text transform="translate(722.30,310.2) rotate(-90)" font-size="12" text-anchor="end">31/07/2017</text><text transform="translate(739.06,310.2) rotate(-90)" font-size="12" text-anchor="end">31/08/2017</text><text transform="translate(755.81,310.2) rotate(-90)" font-size="12" text-anchor="end">30/09/2017</text><text transform="translate(772.57,310.2) rotate(-90)" font-size="12" text-anchor="end">31/10/2017</text><text transform="translate(789.33,310.2) rotate(-90)" font-size="12" text-anchor="end">30/11/2017</text><text transform="translate(806.08,310.2) rotate(-90)" font-size="12" text-anchor="end">31/12/2017</text><text transform="translate(822.84,310.2) rotate(-90)" font-size="12" text-anchor="end">31/01/2018</text><text transform="translate(839.60,310.2) rotate(-90)" font-size="12" text-anchor="end">28/02/2018</text><text transform="translate(856.35,310.2) rotate(-90)" font-size="12" text-anchor="end">31/03/2018</text><text transform="translate(873.11,310.2) rotate(-90)" font-size="12" text-anchor="end">30/04/2018</text><text transform="translate(889.87,310.2) rotate(-90)" font-size="12" text-anchor="end">31/05/2018</text><text transform="translate(906.62,310.2) rotate(-90)" font-size="12" text-anchor="end">01/07/2018</text><text transform="translate(923.38,310.2) rotate(-90)" font-size="12" text-anchor="end">31/07/2018</text><text transform="translate(940.14,310.2) rotate(-90)" font-size="12" text-anchor="end">31/08/2018</text><text transform="translate(956.89,310.2) rotate(-90)" font-size="12" text-anchor="end">01/10/2018</text><text transform="translate(973.65,310.2) rotate(-90)" font-size="12" text-anchor="end">31/10/2018</text><text transform="translate(990.41,310.2) rotate(-90)" font-size="12" text-anchor="end">01/12/2018</text><text transform="translate(1007.16,310.2) rotate(-90)" font-size="12" text-anchor="end">31/12/2018</text><text transform="translate(1023.92,310.2) rotate(-90)" font-size="12" text-anchor="end">31/01/2019</text></g><polyline points="885.57,175.13 902.32,152.70 919.08,148.87 935.84,153.41 952.59,167.03 969.35,168.81 986.11,177.98 1002.86,183.05 1019.62,183.67" fill="none" stroke="#b5713f" stroke-width="1.3" stroke-linejoin="round" stroke-linecap="round"/><polyline points="885.57,175.13 902.32,165.07 919.08,161.07 935.84,165.87 952.59,178.87 969.35,181.00 986.11,190.62 1002.86,195.96 1019.62,196.49" fill="none" stroke="#b5713f" stroke-width="1.3" stroke-linejoin="round" stroke-linecap="round"/><polyline points="885.57,175.13 902.32,158.84 919.08,155.10 935.84,159.47 952.59,172.90 969.35,175.04 986.11,184.30 1002.86,189.46 1019.62,190.08" fill="none" stroke="#e5823d" stroke-width="3.2" stroke-linejoin="round" stroke-linecap="round"/><polyline points="416.38,210.02 433.14,199.34 449.89,202.45 466.65,191.24 483.41,181.80 500.16,171.21 516.92,174.24 533.68,178.60 550.43,189.19 567.19,187.50 583.95,201.83 600.70,205.03 617.46,205.75 634.22,194.44 650.97,190.44 667.73,185.99 684.49,179.76 701.24,169.43 718.00,157.24 734.76,163.83 751.51,179.13 768.27,184.74 785.03,190.35 801.78,195.07 818.54,199.16 835.30,189.37 852.05,183.76 868.81,178.51 885.57,175.13" fill="none" stroke="#4a6fae" stroke-width="3.6" stroke-linejoin="round" stroke-linecap="round"/><path d="M465.2 393.2H494.7" stroke="#4a6fae" stroke-width="3.4"/><path d="M706 393.2H733.7" stroke="#e5823d" stroke-width="3"/><path d="M465.5 416.6H494.5" stroke="#caa17c" stroke-width="1.6"/><path d="M706.5 416.6H733.5" stroke="#caa17c" stroke-width="1.6"/><g font-family="Liberation Sans, Arial, sans-serif" fill="#595959" font-size="11.6"><text x="497.3" y="397.3">Demanda</text><text x="737" y="397.3">Previsão(Demanda)</text><text x="497.3" y="420.7">Limite de Confiança Inferior(Demanda)</text><text x="737" y="420.7">Limite de Confiança Superior(Demanda)</text></g></svg>
<div class="t " style="left:400.0px;top:452.4px;font-size:11px;color:#333;"><u>T</u>érmino da Previsão</div>
<div class="a" style="left:530px;top:447px;width:93.5px;height:19.5px;background:#fff;border:1px solid #c3c3c3"></div>
<div class="t " style="left:532.5px;top:452.0px;font-size:11.4px;color:#222;letter-spacing:0.35px">31/01/2019</div>
<div class="a" style="left:624.3px;top:446.3px;width:21.5px;height:21.5px;background:#f0f0f0;border:1px solid #c4c4c4"></div>
<svg class="a" style="left:626.8px;top:448.8px;" width="16" height="16" viewBox="0 0 16 16"><rect x="0.8" y="0.8" width="14.4" height="14.4" fill="#fff" stroke="#333" stroke-width="1.5"/><path d="M0.8 4.6h14.4" stroke="#333" stroke-width="1.3"/><rect x="10.5" y="1.2" width="4.4" height="2.8" fill="#333"/><rect x="5.5" y="6.2" width="1.8" height="1.8" fill="#555"/><rect x="8.4" y="6.2" width="1.8" height="1.8" fill="#555"/><rect x="11.299999999999999" y="6.2" width="1.8" height="1.8" fill="#555"/><rect x="2.6" y="9.1" width="1.8" height="1.8" fill="#555"/><rect x="5.5" y="9.1" width="1.8" height="1.8" fill="#555"/><rect x="8.4" y="9.1" width="1.8" height="1.8" fill="#555"/><rect x="11.299999999999999" y="9.1" width="1.8" height="1.8" fill="#555"/><rect x="2.6" y="12.0" width="1.8" height="1.8" fill="#555"/><rect x="5.5" y="12.0" width="1.8" height="1.8" fill="#555"/><rect x="8.4" y="12.0" width="1.8" height="1.8" fill="#555"/></svg>
<svg class="a" style="left:365.5px;top:479.5px;" width="9" height="8" viewBox="0 0 9 8"><path d="M8.5 0.5V7.5H0.5z" fill="#333"/></svg>
<div class="t " style="left:381.0px;top:478.7px;font-size:11px;color:#333;"><u>O</u>pções</div>
<div class="t " style="left:393.0px;top:505.4px;font-size:11px;color:#333;">Início da Pre<u>v</u>isão</div>
<div class="a" style="left:509.3px;top:500px;width:92.3px;height:19.5px;background:#fff;border:1px solid #c3c3c3"></div>
<div class="t " style="left:511.8px;top:505.0px;font-size:11.4px;color:#222;letter-spacing:0.35px">31/05/2018</div>
<div class="a" style="left:603px;top:499.3px;width:21.5px;height:21.5px;background:#f0f0f0;border:1px solid #c4c4c4"></div>
<svg class="a" style="left:605.5px;top:501.8px;" width="16" height="16" viewBox="0 0 16 16"><rect x="0.8" y="0.8" width="14.4" height="14.4" fill="#fff" stroke="#333" stroke-width="1.5"/><path d="M0.8 4.6h14.4" stroke="#333" stroke-width="1.3"/><rect x="10.5" y="1.2" width="4.4" height="2.8" fill="#333"/><rect x="5.5" y="6.2" width="1.8" height="1.8" fill="#555"/><rect x="8.4" y="6.2" width="1.8" height="1.8" fill="#555"/><rect x="11.299999999999999" y="6.2" width="1.8" height="1.8" fill="#555"/><rect x="2.6" y="9.1" width="1.8" height="1.8" fill="#555"/><rect x="5.5" y="9.1" width="1.8" height="1.8" fill="#555"/><rect x="8.4" y="9.1" width="1.8" height="1.8" fill="#555"/><rect x="11.299999999999999" y="9.1" width="1.8" height="1.8" fill="#555"/><rect x="2.6" y="12.0" width="1.8" height="1.8" fill="#555"/><rect x="5.5" y="12.0" width="1.8" height="1.8" fill="#555"/><rect x="8.4" y="12.0" width="1.8" height="1.8" fill="#555"/></svg>
<div class="a" style="left:392px;top:533px;width:14.5px;height:14.5px;background:#fff;border:1px solid #333"></div>
<svg class="a" style="left:394.0px;top:535.0px;" width="11" height="11" viewBox="0 0 11 11"><path d="M1 5.8l3 3.2 6-8" fill="none" stroke="#222" stroke-width="1.3"/></svg>
<div class="t " style="left:413.8px;top:537.4px;font-size:11px;color:#333;">I<u>n</u>tervalo de Confiança</div>
<div class="a" style="left:534.3px;top:532px;width:60.2px;height:19.8px;background:#fff;border:1px solid #c3c3c3"></div>
<div class="t " style="left:536.8px;top:537.3px;font-size:11px;color:#222;">95%</div>
<div class="a" style="left:577.0px;top:533px;width:16.5px;height:8.9px;background:#ececec;border-left:1px solid #d0d0d0;border-bottom:1px solid #d0d0d0"></div>
<div class="a" style="left:577.0px;top:541.9px;width:16.5px;height:8.9px;background:#ececec;border-left:1px solid #d0d0d0"></div>
<svg class="a" style="left:581.5px;top:535.3px;" width="8" height="5" viewBox="0 0 8 5"><path d="M0 4.5L4 0 8 4.5z" fill="#111"/></svg>
<svg class="a" style="left:581.5px;top:544.3px;" width="8" height="5" viewBox="0 0 8 5"><path d="M0 0L4 4.5 8 0z" fill="#111"/></svg>
<div class="t " style="left:393.8px;top:565.1px;font-size:11px;color:#333;">Sazonalidade</div>
<div class="a" style="left:392.0px;top:584.5px;width:15px;height:15px;border-radius:50%;background:#fff;border:1px solid #333"></div>
<div class="t " style="left:414.2px;top:587.1px;font-size:11px;color:#333;">Detectar <u>A</u>utomaticamente</div>
<div class="a" style="left:392.0px;top:608.3px;width:15px;height:15px;border-radius:50%;background:#fff;border:1px solid #333"></div>
<div class="a" style="left:395.8px;top:612.1px;width:7.4px;height:7.4px;background:#222;border-radius:50%"></div>
<div class="t " style="left:414.2px;top:610.9px;font-size:11px;color:#333;">Definir <u>M</u>anualmente</div>
<div class="a" style="left:528.8px;top:605.5px;width:60.7px;height:19.5px;background:#fff;border:1px solid #c3c3c3"></div>
<div class="t " style="left:531.3px;top:610.7px;font-size:11px;color:#222;">12</div>
<div class="a" style="left:572.0px;top:606.5px;width:16.5px;height:8.75px;background:#ececec;border-left:1px solid #d0d0d0;border-bottom:1px solid #d0d0d0"></div>
<div class="a" style="left:572.0px;top:615.25px;width:16.5px;height:8.75px;background:#ececec;border-left:1px solid #d0d0d0"></div>
<svg class="a" style="left:576.5px;top:608.8px;" width="8" height="5" viewBox="0 0 8 5"><path d="M0 4.5L4 0 8 4.5z" fill="#111"/></svg>
<svg class="a" style="left:576.5px;top:617.6px;" width="8" height="5" viewBox="0 0 8 5"><path d="M0 0L4 4.5 8 0z" fill="#111"/></svg>
<div class="a" style="left:543.2px;top:609.0px;width:1.0px;height:13.0px;background:#111"></div>
<div class="a" style="left:392px;top:636.2px;width:14.5px;height:14.5px;background:#fff;border:1px solid #333"></div>
<div class="t " style="left:414.0px;top:638.7px;font-size:11px;color:#333;">Incluir e<u>s</u>tatísticas de previsão</div>
<div class="t " style="left:682.2px;top:554.7px;font-size:11px;color:#333;">Intervalo de Lin<u>h</u>a de Tempo</div>
<div class="t " style="left:682.2px;top:583.1px;font-size:11px;color:#333;"><u>I</u>ntervalo de Valores</div>
<div class="t " style="left:682.2px;top:611.3px;font-size:11px;color:#333;letter-spacing:-0.1px"><u>P</u>reencher Pontos Ausentes Usando</div>
<div class="t " style="left:682.2px;top:640.1px;font-size:11px;color:#333;">Agregar Dupli<u>c</u>atas Usando</div>
<div class="a" style="left:832px;top:549.2px;width:211.5px;height:19px;background:#fff;border:1px solid #c3c3c3"></div>
<div class="t " style="left:835.0px;top:555.1px;font-size:11px;color:#222;">Dados!$B$2:$B$31</div>
<div class="a" style="left:1023.5px;top:550.2px;width:19px;height:17px;background:#f2f2f2;border-left:1px solid #c8c8c8"></div>
<svg class="a" style="left:1027.5px;top:552.2px;" width="11" height="13" viewBox="0 0 11 13"><path d="M5.5 1L1.5 5.5h2.5v3.5h3v-3.5h2.5z" fill="#111"/><path d="M1 11.5h9" stroke="#111" stroke-width="1.4"/></svg>
<div class="a" style="left:832px;top:578px;width:211.5px;height:19px;background:#fff;border:1px solid #c3c3c3"></div>
<div class="t " style="left:835.0px;top:583.9px;font-size:11px;color:#222;">Dados!$C$2:$C$31</div>
<div class="a" style="left:1023.5px;top:579px;width:19px;height:17px;background:#f2f2f2;border-left:1px solid #c8c8c8"></div>
<svg class="a" style="left:1027.5px;top:581.0px;" width="11" height="13" viewBox="0 0 11 13"><path d="M5.5 1L1.5 5.5h2.5v3.5h3v-3.5h2.5z" fill="#111"/><path d="M1 11.5h9" stroke="#111" stroke-width="1.4"/></svg>
<div class="a" style="left:866.5px;top:607px;width:177px;height:18.5px;background:#fff;border:1px solid #c3c3c3"></div>
<div class="t " style="left:869.5px;top:611.8px;font-size:11px;color:#222;">Interpolação</div>
<div class="a" style="left:1024.5px;top:608px;width:18px;height:16.5px;background:#ececec;border-left:1px solid #d0d0d0"></div>
<svg class="a" style="left:1029.0px;top:613.0px;" width="9" height="6" viewBox="0 0 9 6"><path d="M0.5 0.5L4.5 4.5 8.5 0.5" fill="none" stroke="#666" stroke-width="1.1"/></svg>
<div class="a" style="left:866.5px;top:635.4px;width:177px;height:18.5px;background:#fff;border:1px solid #c3c3c3"></div>
<div class="t " style="left:869.5px;top:640.2px;font-size:11px;color:#222;">Média</div>
<div class="a" style="left:1024.5px;top:636.4px;width:18px;height:16.5px;background:#ececec;border-left:1px solid #d0d0d0"></div>
<svg class="a" style="left:1029.0px;top:641.4px;" width="9" height="6" viewBox="0 0 9 6"><path d="M0.5 0.5L4.5 4.5 8.5 0.5" fill="none" stroke="#666" stroke-width="1.1"/></svg>
<div class="a" style="left:875px;top:678px;width:78px;height:23.5px;background:#e3e3e3;border:2px solid #2c6aa0"></div>
<div class="t " style="left:914.0px;transform:translateX(-50%);top:685.4px;font-size:11.2px;color:#222;">Criar</div>
<div class="a" style="left:964.6px;top:678px;width:78px;height:23.5px;background:#e3e3e3;border:1px solid #c2c2c2"></div>
<div class="t " style="left:1003.6px;transform:translateX(-50%);top:685.4px;font-size:11.2px;color:#222;">Cancelar</div>
<div class="a" style="left:0.0px;top:0.0px;width:6.0px;height:720.0px;background:#000"></div>
<div class="a" style="left:1274.0px;top:0.0px;width:6.0px;height:720.0px;background:#000"></div>
</body>
</html>
